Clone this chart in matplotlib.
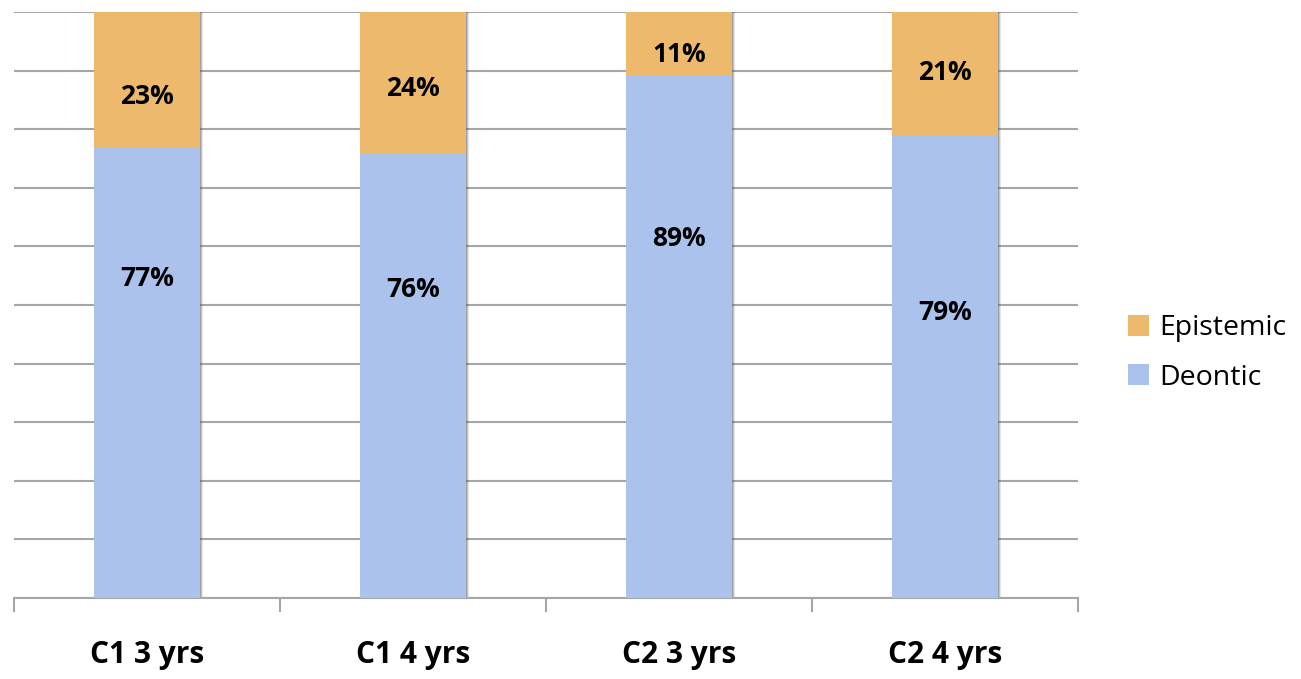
import matplotlib
matplotlib.use("Agg")
import matplotlib.pyplot as plt
from matplotlib.patches import Rectangle

# Chart data
categories = ["C1 3 yrs", "C1 4 yrs", "C2 3 yrs", "C2 4 yrs"]
deontic = [77, 76, 89, 79]
epistemic = [23, 24, 11, 21]
# where the data labels sit (percent height)
deontic_label_y = [54.6, 52.6, 61.4, 48.8]
epistemic_label_y = [85.5, 87.0, 92.8, 89.6]

col_deontic = "#AAC2EC"
col_epistemic = "#EDB96C"
grid_col = "#A6A6A6"

plt.rcParams['font.family'] = ['Open Sans', 'DejaVu Sans']

fig = plt.figure(figsize=(13.01, 6.79), dpi=100)
ax = fig.add_axes([14/1301, 81/679, 1064/1301, 586/679])

x = list(range(len(categories)))
w = 0.4

# soft shadow to the right of each bar
for xi, d, e in zip(x, deontic, epistemic):
    for k, a in enumerate([0.55, 0.35, 0.15]):
        ax.add_patch(Rectangle((xi + w/2 + k*0.004, 0), 0.004, d + e,
                               color="#555555", alpha=a, lw=0, zorder=2))

ax.bar(x, deontic, w, color=col_deontic, label="Deontic", zorder=3)
ax.bar(x, epistemic, w, bottom=deontic, color=col_epistemic,
       label="Epistemic", zorder=3)

for xi, ly, v in zip(x, deontic_label_y, deontic):
    ax.text(xi, ly, "%d%%" % v, ha="center", va="center", fontsize=19,
            fontweight="bold", zorder=4)
for xi, ly, v in zip(x, epistemic_label_y, epistemic):
    ax.text(xi, ly, "%d%%" % v, ha="center", va="center", fontsize=19,
            fontweight="bold", zorder=4)

ax.set_xlim(-0.5, len(categories) - 0.5)
ax.set_ylim(0, 100)
ax.set_yticks(range(0, 101, 10))
ax.yaxis.grid(True, color=grid_col, lw=1.5)
ax.tick_params(axis="y", left=False, labelleft=False)

# category boundary ticks below the axis
ax.set_xticks([i - 0.5 for i in range(len(categories) + 1)])
ax.set_xticklabels([])
ax.tick_params(axis="x", length=10, width=1.5, color=grid_col, direction="out")
for xi, c in zip(x, categories):
    ax.text(xi, -7.2, c, ha="center", va="top", fontsize=21.5,
            fontweight="bold", transform=ax.transData)

for s in ["top", "right", "left"]:
    ax.spines[s].set_visible(False)
ax.spines["bottom"].set_color(grid_col)
ax.spines["bottom"].set_linewidth(1.5)
ax.set_axisbelow(True)

handles, labels = ax.get_legend_handles_labels()
fig.legend(handles[::-1], labels[::-1], loc="center left",
           bbox_to_anchor=(1102/1301, 0.48), frameon=False, fontsize=20.5,
           handlelength=0.75, handleheight=0.75, handletextpad=0.35,
           labelspacing=0.75)

fig.savefig("out.png", dpi=100)
